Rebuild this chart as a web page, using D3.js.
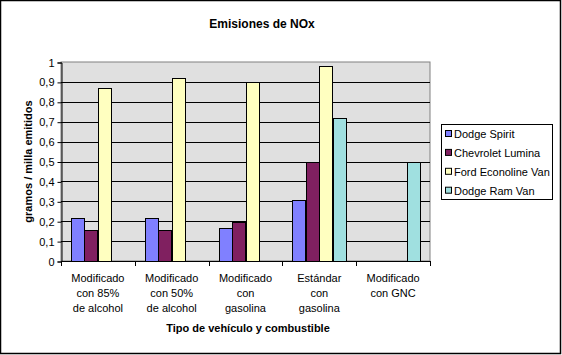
<!DOCTYPE html>
<html>
<head>
<meta charset="utf-8">
<script src="https://cdn.jsdelivr.net/npm/d3@7"></script>
<style>
html,body{margin:0;padding:0;background:#fff;}
svg{display:block;font-family:"Liberation Sans",Arial,sans-serif;}
</style>
</head>
<body>
<svg id="chart" width="562" height="355"></svg>
<script>
const categories = [
  ["Modificado","con 85%","de alcohol"],
  ["Modificado","con 50%","de alcohol"],
  ["Modificado","con","gasolina"],
  ["Estándar","con","gasolina"],
  ["Modificado","con GNC"]
];
const seriesNames = ["Dodge Spirit","Chevrolet Lumina","Ford Econoline Van","Dodge Ram Van"];
const dodgeSpirit = [0.215, 0.215, 0.165, 0.305, null];
const chevroletLumina = [0.155, 0.155, 0.195, 0.495, null];
const fordEconoline = [0.87, 0.92, 0.90, 0.98, null];
const dodgeRamVan = [null, null, null, 0.72, 0.50];
const yTicks = [0,0.1,0.2,0.3,0.4,0.5,0.6,0.7,0.8,0.9,1];
const colors = ["#8080ff","#802060","#ffffc0","#a0e0e0"];

const seriesValues = [dodgeSpirit, chevroletLumina, fordEconoline, dodgeRamVan];
const svg = d3.select("#chart");

// outer border
svg.append("rect").attr("x",0.5).attr("y",0.5).attr("width",560).attr("height",353)
  .attr("fill","#fff").attr("stroke","#000").attr("stroke-width",1.5);

const plot = {left:61, right:430, top:62, bottom:261};
const x = d3.scaleBand().domain(d3.range(categories.length)).range([plot.left, plot.right]).padding(0);
const gapFrac = 1.5; // gap width 150%
const barW = x.bandwidth()/(seriesNames.length+gapFrac);
const xs = d3.scaleBand().domain(d3.range(seriesNames.length))
  .range([barW*gapFrac/2, barW*gapFrac/2 + barW*seriesNames.length]).padding(0);
const y = d3.scaleLinear().domain([0,1]).range([plot.bottom, plot.top]);

// plot background
svg.append("rect").attr("x",plot.left).attr("y",plot.top)
  .attr("width",plot.right-plot.left).attr("height",plot.bottom-plot.top)
  .attr("fill","#e0e0e0").attr("stroke","#808080").attr("stroke-width",1);

// gridlines
svg.append("g").selectAll("line").data(yTicks.filter(d=>d>0 && d<1)).join("line")
  .attr("x1",plot.left).attr("x2",plot.right)
  .attr("y1",d=>Math.round(y(d))+0.5).attr("y2",d=>Math.round(y(d))+0.5)
  .attr("stroke","#000").attr("stroke-width",1);

// bars
seriesValues.forEach((vals,si)=>{
  svg.append("g").selectAll("rect")
    .data(vals.map((v,i)=>({v,i})).filter(d=>d.v!==null))
    .join("rect")
    .attr("x",d=>Math.round(x(d.i)+xs(si))+0.5)
    .attr("y",d=>Math.round(y(d.v))+0.5)
    .attr("width",Math.round(barW)-1+1)
    .attr("height",d=>Math.round(y(0))-Math.round(y(d.v)))
    .attr("fill",colors[si]).attr("stroke","#000").attr("stroke-width",1);
});

// y axis
const yAxis = d3.axisLeft(y).tickValues(yTicks).tickSize(4).tickPadding(3)
  .tickFormat(d=>d3.format(".1~f")(d).replace(".",","));
const ya = svg.append("g").attr("transform",`translate(${plot.left+0.5},0.5)`).call(yAxis);
ya.select(".domain").attr("stroke","#000");
ya.selectAll(".tick line").attr("stroke","#000");
ya.selectAll("text").attr("font-size","11px").attr("fill","#000")
  .attr("font-family","'Liberation Sans',Arial,sans-serif");

// x axis line and ticks at category boundaries
svg.append("line").attr("x1",plot.left).attr("x2",plot.right+0.5)
  .attr("y1",plot.bottom+0.5).attr("y2",plot.bottom+0.5).attr("stroke","#000");
svg.append("g").selectAll("line").data(d3.range(categories.length+1)).join("line")
  .attr("x1",d=>Math.round(d<categories.length?x(d):plot.right)+0.5)
  .attr("x2",d=>Math.round(d<categories.length?x(d):plot.right)+0.5)
  .attr("y1",plot.bottom).attr("y2",plot.bottom+5).attr("stroke","#000");

// category labels
const cl = svg.append("g").selectAll("text").data(categories).join("text")
  .attr("x",(d,i)=>x(i)+x.bandwidth()/2).attr("y",282)
  .attr("text-anchor","middle").attr("font-size","11px").attr("fill","#000");
cl.each(function(d){
  const t = d3.select(this);
  d.forEach((line,k)=>{
    t.append("tspan").attr("x",t.attr("x")).attr("dy",k===0?0:15).text(line);
  });
});

// titles
svg.append("text").attr("x",262).attr("y",28).attr("text-anchor","middle")
  .attr("font-size","12px").attr("font-weight","bold").text("Emisiones de NOx");
svg.append("text").attr("x",248).attr("y",332).attr("text-anchor","middle")
  .attr("font-size","11px").attr("font-weight","bold").text("Tipo de vehículo y combustible");
svg.append("text").attr("transform",`translate(32,${(plot.top+plot.bottom)/2}) rotate(-90)`)
  .attr("text-anchor","middle").attr("font-size","11px").attr("font-weight","bold")
  .text("gramos / milla emitidos");

// legend
const lg = svg.append("g");
lg.append("rect").attr("x",441.5).attr("y",124.5).attr("width",111).attr("height",75)
  .attr("fill","#fff").attr("stroke","#000");
const items = lg.selectAll("g.item").data(seriesNames).join("g").attr("class","item")
  .attr("transform",(d,i)=>`translate(0,${134+i*18.9})`);
items.append("rect").attr("x",445.5).attr("y",-3.5).attr("width",6).attr("height",6)
  .attr("fill",(d,i)=>colors[i]).attr("stroke","#000");
items.append("text").attr("x",454).attr("y",4).attr("font-size","11px").text(d=>d);
</script>
</body>
</html>
